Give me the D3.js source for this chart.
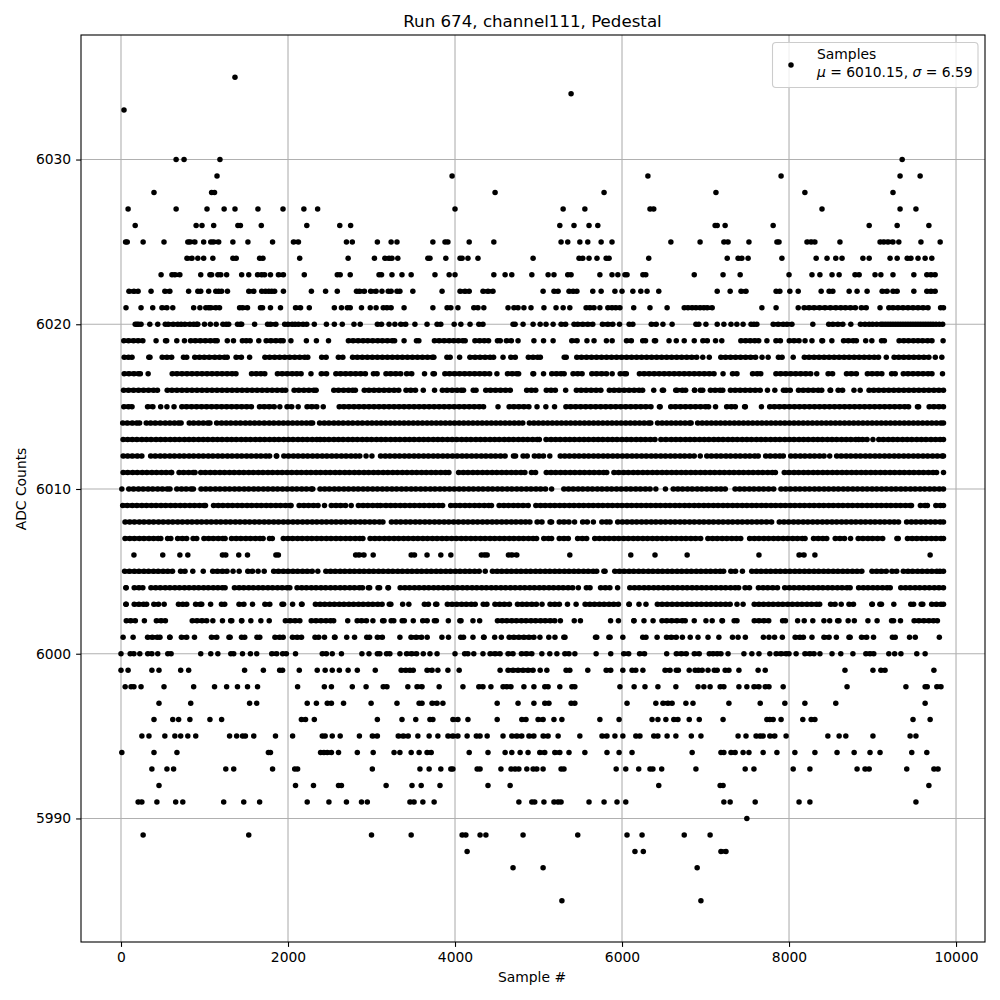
<!DOCTYPE html>
<html><head><meta charset="utf-8">
<script src="https://cdn.jsdelivr.net/npm/d3@7"></script>
<style>html,body{margin:0;padding:0;background:#fff}svg{display:block}text{font-family:"DejaVu Sans";fill:#000}</style>
</head><body><svg id="c" width="1000" height="1000"></svg>
<script>
const title="Run 674, channel111, Pedestal", xLabel="Sample #", yLabel="ADC Counts";
const xTicks=[0,2000,4000,6000,8000,10000], yTicks=[5990,6000,6010,6020,6030];
const a6035=[1365];
const a6034=[5390];
const a6033=[36];
const a6030=[660,755,1185,9355];
const a6029=[1150,3965,6310,7905,9330,9570];
const a6028=[395,1085,1120,4480,5785,7125,8190,9245];
const a6027=[85,660,1030,1235,1365,1640,1940,2190,2355,4000,5295,5555,6335,6380,8395,9330,9520];
const a6026=[170,900,970,1110,1400,1430,1680,2225,2620,2750,5255,5425,5605,5710,7115,7140,7235,7810,8960,9295,9675];
const a6025=[55,75,265,515,800,825,885,990,1075,1105,1170,1340,1520,1815,2065,2125,2700,2770,3070,3235,3305,3735,3880,3915,4170,4465,5270,5350,5495,5590,5750,5880,6585,6935,7220,7270,7520,7855,7880,8215,8265,8310,8610,9090,9135,9185,9245,9315,9580,9810];
const a6024=[790,850,920,990,1100,1340,1380,1660,1700,2140,2720,3035,3160,3210,3245,3315,3675,3700,3890,4060,4085,4155,4275,4935,5485,5530,5605,5700,5810,5845,6320,7260,7390,7435,7510,7915,8325,8455,8560,8635,8885,8960,9210,9295,9415,9460,9545,9630,9710];
const a6023=[480,610,645,705,955,1065,1085,1160,1195,1265,1445,1530,1635,1685,1720,1790,1885,1945,2195,2590,2625,2745,3090,3120,3245,3365,3475,3760,3930,4000,4465,4600,4680,4920,5115,5185,5350,5390,5735,5880,5950,6035,6060,6250,6285,6865,7210,7415,8000,8275,8370,8515,8600,8790,8840,9030,9100,9245,9495,9650,9700,9750];
const a6022=[95,155,205,360,525,585,810,920,955,1050,1135,1170,1205,1275,1530,1590,1685,1730,1770,1805,1840,1945,2280,2450,2590,2820,2855,2915,2990,3055,3125,3200,3235,3305,3340,3495,3845,4060,4120,4170,4335,4395,4455,5055,5185,5235,5365,5415,5460,5650,5750,5915,6000,6130,6225,6300,6440,7140,7295,7425,7485,7845,7890,8010,8110,8385,8480,8525,8720,8815,8935,9115,9175,9245,9295,9495,9650,9700,9750];
const a6021=[60,240,380,490,550,620,870,945,1015,1050,1075,1135,1180,1420,1455,1515,1670,1695,1790,1910,2090,2150,2255,2555,2640,2710,2745,2880,2985,3055,3140,3185,3235,3390,3735,3905,3950,4035,4225,4275,4345,4635,4705,4755,4825,4910,5065,5210,5295,5375,5570,5615,5665,5735,5830,5880,5925,5975,6140,6335,6540,6745,6790,6840,6885,6935,6980,7020,7080,7675,7845,8110,8180,8240,8300,8365,8430,8495,8560,8620,8675,8735,8795,8865,8925,9090,9195,9245,9305,9365,9425,9485,9545,9605,9665,9815,9850];
const a6020=[170,190,210,240,345,440,530,565,625,680,720,765,825,870,905,920,1000,1070,1140,1220,1260,1290,1395,1430,1445,1600,1755,1790,1855,1960,2000,2050,2085,2125,2180,2225,2315,2460,2555,2650,2790,2865,3070,3120,3210,3280,3350,3410,3520,3665,3785,3830,3990,4070,4180,4285,4335,4695,4720,4815,4935,5020,5090,5175,5270,5325,5425,5470,5530,5590,5650,5765,5830,5890,5970,6085,6130,6350,6410,6490,6600,6885,6920,7005,7140,7220,7305,7375,7450,7545,7580,7615,7810,7870,7930,7975,8035,8285,8475,8525,8585,8645,8740,8855,8910,8960,9000,9050,9100,9125,9155,9185,9215,9245,9275,9305,9335,9365,9395,9425,9455,9485,9515,9545,9575,9605,9635,9665,9695,9725,9760,9800,9840];
const a6019=[33,90,150,205,262,420,533,547,668,760,833,890,950,1010,1070,1125,1152,1273,1347,1453,1500,1547,1650,1738,1795,1855,1910,1942,2035,2220,2340,2485,2723,2780,2840,2900,2955,3015,3075,3130,3190,3250,3277,3390,3538,3567,3753,3810,3870,3930,3985,4040,4095,4122,4238,4295,4350,4402,4508,4542,4615,4675,4755,4945,5060,5175,5398,5462,5580,5665,5813,5882,6053,6112,6248,6282,6388,6402,6563,6650,6745,6865,6968,7022,7120,7195,7423,7480,7535,7590,7637,7735,7843,7897,8003,8060,8120,8192,8275,8393,8402,8513,8653,8710,8770,8807,8918,8992,9108,9142,9318,9375,9430,9490,9545,9600,9660,9712,9845];
const a6018=[38,90,132,333,347,493,550,607,748,787,883,940,997,1057,1123,1180,1240,1272,1378,1442,1540,1723,1780,1840,1900,1960,2020,2080,2140,2200,2237,2403,2457,2603,2657,2773,2830,2890,2950,3010,3070,3130,3190,3250,3310,3370,3430,3490,3550,3610,3670,3730,3747,3903,3942,4055,4178,4240,4300,4360,4420,4462,4575,4668,4722,4878,4935,4990,5022,5308,5332,5458,5515,5575,5635,5695,5755,5815,5875,5935,5995,6055,6115,6175,6235,6295,6355,6415,6475,6535,6595,6655,6715,6775,6835,6895,6967,7045,7183,7240,7300,7360,7420,7480,7540,7600,7677,7750,7873,7917,8050,8183,8240,8300,8360,8420,8480,8540,8600,8660,8720,8780,8840,8900,8960,9020,9072,9165,9258,9315,9375,9435,9495,9555,9615,9675,9752,9830];
const a6017=[38,95,155,210,232,325,613,670,730,790,850,910,970,1030,1090,1150,1210,1270,1330,1377,1563,1620,1675,1722,1873,1930,1990,2050,2105,2157,2275,2398,2462,2573,2630,2690,2750,2810,2870,2927,3023,3067,3173,3230,3290,3350,3420,3482,3635,3753,3737,3878,3935,3995,4055,4115,4175,4235,4295,4355,4415,4502,4628,4685,4740,4762,4933,4942,5060,5158,5215,5270,5307,5413,5470,5522,5638,5695,5755,5815,5882,5978,6030,6052,6208,6265,6325,6385,6445,6505,6565,6625,6685,6745,6805,6865,6925,6985,7045,7102,7210,7323,7377,7563,7620,7662,7843,7900,7960,8020,8080,8140,8200,8260,8332,8468,8522,8688,8745,8807,8938,8995,9055,9112,9228,9272,9368,9425,9485,9545,9605,9665,9712,9838];
const a6016=[30,90,150,210,270,330,390,437,553,610,670,730,790,850,910,970,1030,1090,1150,1210,1270,1330,1390,1450,1510,1570,1630,1690,1750,1810,1870,1930,1972,2073,2130,2190,2250,2310,2337,2548,2605,2665,2725,2775,2807,2913,2970,3030,3090,3150,3210,3270,3327,3413,3470,3527,3620,3755,3848,3905,3965,4025,4075,4102,4218,4252,4368,4425,4485,4545,4605,4662,4858,4915,4967,5093,5150,5202,5325,5453,5510,5570,5630,5690,5747,5848,5905,5965,6025,6085,6145,6205,6247,6380,6483,6497,6643,6657,6723,6762,6868,6870,6938,6967,7058,7115,7175,7207,7298,7355,7415,7475,7535,7595,7655,7742,7830,7933,7965,8015,8113,8170,8230,8290,8350,8392,8498,8492,8588,8642,8778,8852,8958,9015,9075,9135,9195,9255,9315,9375,9435,9495,9555,9615,9675,9735,9795,9850];
const a6015=[33,90,132,318,382,475,550,635,728,785,845,905,965,1025,1085,1145,1205,1265,1325,1385,1445,1505,1562,1658,1715,1775,1835,1902,1988,2045,2122,2228,2285,2345,2422,2613,2670,2730,2790,2850,2910,2970,3030,3090,3150,3210,3270,3330,3390,3450,3510,3570,3630,3690,3750,3810,3870,3930,3990,4050,4110,4170,4230,4290,4342,4515,4648,4705,4765,4825,4885,4982,5088,5192,5328,5385,5445,5505,5565,5625,5685,5745,5805,5865,5925,5985,6045,6105,6165,6225,6285,6347,6448,6457,6583,6640,6700,6760,6820,6880,6940,7000,7037,7120,7253,7310,7357,7468,7477,7670,7768,7825,7885,7945,8005,8065,8125,8185,8245,8305,8365,8425,8485,8545,8605,8665,8725,8785,8845,8905,8965,9025,9085,9145,9205,9265,9325,9385,9432,9538,9552,9678,9735,9795,9850];
const a6014=[20,75,135,190,223,302,355,410,470,530,585,640,690,720,817,870,930,985,1040,1065,1145,1205,1260,1315,1375,1430,1490,1545,1600,1655,1715,1775,1830,1890,1945,2000,2055,2110,2165,2220,2270,2295,2378,2435,2490,2550,2605,2660,2720,2775,2835,2890,2950,3005,3060,3115,3170,3225,3280,3335,3390,3445,3500,3555,3610,3665,3720,3775,3830,3885,3940,3995,4050,4105,4160,4215,4270,4325,4380,4435,4490,4545,4600,4655,4710,4765,4812,4890,4945,5000,5055,5110,5165,5220,5275,5330,5385,5440,5495,5550,5605,5660,5715,5770,5825,5880,5935,5990,6045,6100,6155,6210,6265,6320,6345,6425,6480,6535,6590,6645,6700,6755,6810,6828,6905,6960,7015,7070,7125,7180,7235,7290,7345,7400,7455,7510,7565,7620,7675,7730,7785,7840,7895,7950,8005,8060,8115,8170,8225,8280,8335,8390,8445,8500,8555,8610,8665,8720,8775,8830,8885,8940,8995,9050,9105,9160,9215,9270,9325,9380,9435,9490,9545,9600,9655,9710,9765,9820,9850];
const a6013=[25,80,135,190,250,305,360,420,475,530,590,645,700,760,815,870,930,985,1040,1100,1155,1210,1270,1325,1380,1440,1495,1550,1610,1665,1720,1780,1835,1890,1950,2005,2060,2120,2175,2230,2290,2345,2385,2435,2490,2550,2605,2660,2720,2775,2830,2890,2945,3000,3060,3115,3170,3230,3285,3340,3400,3455,3510,3570,3625,3680,3740,3795,3850,3910,3965,4020,4080,4135,4190,4250,4305,4360,4420,4475,4530,4590,4645,4700,4760,4815,4870,4930,4985,5010,5090,5150,5205,5260,5320,5375,5430,5490,5545,5600,5660,5715,5770,5830,5885,5940,6000,6055,6110,6170,6225,6280,6340,6395,6465,6525,6590,6645,6700,6760,6815,6870,6930,6985,7040,7100,7155,7210,7270,7325,7380,7440,7495,7550,7610,7665,7720,7780,7835,7890,7950,8005,8060,8120,8175,8230,8290,8345,8400,8460,8515,8570,8630,8685,8740,8800,8835,8880,8935,9005,9075,9130,9190,9245,9300,9360,9415,9470,9530,9585,9640,9700,9755,9810,9850];
const a6012=[25,80,135,195,250,355,410,470,525,585,640,700,755,815,870,930,985,1045,1100,1160,1215,1275,1330,1390,1445,1505,1560,1620,1675,1735,1780,1860,1865,1950,2005,2065,2120,2180,2235,2295,2350,2410,2465,2525,2580,2640,2695,2755,2810,2860,2935,3005,3108,3165,3220,3280,3335,3395,3450,3510,3565,3625,3680,3740,3795,3855,3910,3970,4025,4085,4140,4200,4255,4315,4370,4430,4485,4545,4600,4700,4725,4815,4865,4950,5005,5060,5135,5260,5315,5370,5430,5485,5545,5600,5660,5715,5775,5830,5890,5945,6005,6060,6120,6175,6235,6290,6350,6405,6465,6520,6580,6635,6695,6750,6810,6865,6937,7015,7070,7130,7185,7245,7300,7360,7415,7475,7530,7590,7632,7720,7775,7835,7890,7932,8020,8075,8135,8190,8250,8305,8365,8420,8487,8570,8625,8685,8740,8800,8855,8915,8970,9030,9085,9145,9200,9260,9315,9375,9430,9490,9545,9605,9660,9720,9775,9835,9850];
const a6011=[25,80,140,195,255,310,370,425,485,540,600,607,695,750,810,865,887,955,1010,1070,1125,1185,1240,1300,1355,1415,1470,1530,1585,1645,1700,1760,1815,1875,1930,1990,2045,2105,2160,2220,2275,2335,2390,2450,2505,2565,2620,2680,2735,2795,2850,2910,2965,3025,3080,3140,3195,3255,3310,3370,3425,3485,3540,3600,3655,3715,3770,3830,3885,3927,4043,4100,4155,4215,4270,4330,4385,4445,4500,4560,4615,4675,4730,4790,4837,4915,4965,5093,5150,5205,5265,5320,5380,5435,5495,5550,5610,5665,5725,5780,5817,5903,5960,6020,6075,6135,6190,6250,6305,6365,6420,6480,6535,6595,6650,6710,6765,6825,6880,6940,6995,7055,7110,7170,7225,7285,7340,7400,7455,7515,7570,7630,7685,7745,7800,7837,7943,8000,8060,8115,8175,8230,8290,8345,8405,8460,8520,8575,8635,8690,8750,8805,8865,8920,8980,9035,9095,9150,9210,9265,9325,9380,9440,9495,9555,9610,9670,9725,9767,9850];
const a6010=[10,93,150,210,265,325,380,440,495,555,587,668,725,780,840,867,958,1015,1070,1130,1185,1245,1300,1360,1415,1475,1530,1590,1645,1705,1760,1820,1875,1935,1990,2050,2105,2165,2220,2280,2297,2383,2440,2495,2555,2610,2670,2725,2785,2840,2900,2955,3015,3070,3130,3185,3245,3300,3360,3415,3475,3530,3590,3645,3705,3760,3820,3875,3935,3990,4050,4105,4165,4220,4280,4335,4395,4450,4510,4565,4625,4680,4740,4795,4855,4910,4970,5025,5085,5157,5303,5360,5415,5475,5530,5590,5645,5705,5760,5820,5875,5935,5990,6050,6105,6165,6220,6280,6337,6405,6520,6613,6670,6725,6785,6840,6900,6955,7015,7070,7130,7185,7237,7353,7410,7465,7525,7580,7640,7695,7755,7817,7903,7960,8015,8075,8130,8190,8245,8305,8360,8420,8475,8535,8590,8650,8705,8765,8820,8880,8935,8995,9050,9110,9165,9225,9280,9340,9395,9455,9510,9570,9625,9685,9740,9800,9850];
const a6009=[20,75,135,190,250,305,365,420,480,535,595,650,710,765,825,880,940,995,1012,1108,1165,1220,1280,1335,1395,1450,1510,1565,1625,1680,1740,1795,1855,1910,1970,2025,2037,2133,2190,2245,2305,2360,2437,2518,2575,2630,2690,2757,2843,2900,2955,3015,3070,3107,3173,3230,3285,3345,3400,3460,3515,3575,3630,3690,3745,3805,3852,3948,4005,4060,4120,4175,4235,4290,4350,4405,4437,4528,4585,4640,4700,4755,4815,4877,4968,5025,5080,5140,5195,5255,5310,5370,5425,5485,5540,5600,5655,5715,5770,5830,5885,5945,6000,6060,6115,6175,6230,6290,6345,6405,6460,6520,6575,6635,6690,6750,6805,6865,6920,6980,7035,7095,7150,7210,7265,7325,7380,7440,7495,7555,7610,7670,7725,7785,7840,7900,7955,8015,8070,8130,8185,8245,8300,8360,8415,8475,8530,8590,8645,8705,8760,8820,8875,8935,8990,9050,9105,9165,9220,9280,9335,9395,9450,9467,9573,9630,9657,9758,9815,9850];
const a6008=[48,105,160,220,275,335,390,450,505,565,620,680,735,795,850,910,965,1025,1080,1140,1195,1255,1310,1370,1425,1485,1540,1600,1655,1715,1770,1830,1885,1945,2000,2060,2115,2175,2230,2290,2345,2405,2460,2520,2575,2635,2690,2750,2805,2865,2920,2980,3035,3095,3137,3238,3295,3350,3410,3465,3525,3580,3640,3695,3755,3810,3870,3925,3985,4040,4100,4155,4215,4270,4330,4385,4445,4500,4560,4615,4675,4730,4790,4845,4897,4983,5042,5138,5157,5248,5305,5365,5432,5528,5585,5657,5758,5815,5857,5948,6005,6060,6120,6175,6235,6290,6350,6405,6465,6520,6580,6635,6695,6750,6810,6865,6925,6980,7040,7095,7155,7210,7270,7325,7385,7440,7500,7555,7615,7670,7730,7792,7883,7940,7995,8055,8110,8170,8225,8285,8340,8400,8455,8515,8570,8630,8685,8745,8800,8860,8915,8975,9030,9090,9145,9205,9260,9312,9408,9465,9520,9580,9635,9695,9750,9810,9850];
const a6007=[48,105,160,220,275,335,390,445,477,558,597,678,735,787,863,907,993,1050,1105,1165,1220,1247,1323,1380,1435,1495,1550,1610,1665,1702,1778,1812,1943,2000,2055,2115,2170,2230,2285,2345,2400,2460,2515,2575,2630,2690,2745,2805,2860,2897,2983,3040,3095,3155,3210,3270,3325,3385,3440,3500,3555,3615,3670,3730,3785,3845,3900,3960,4015,4075,4130,4190,4245,4305,4360,4420,4475,4535,4590,4650,4705,4765,4820,4880,4935,4977,5063,5120,5157,5248,5305,5357,5468,5525,5577,5673,5730,5790,5845,5905,5960,6020,6075,6135,6190,6250,6305,6365,6420,6480,6535,6595,6650,6710,6765,6825,6880,6942,7028,7085,7140,7200,7255,7315,7370,7422,7528,7585,7640,7700,7755,7815,7870,7930,7985,8045,8100,8160,8192,8293,8350,8405,8452,8553,8610,8665,8737,8828,8885,8945,9000,9060,9122,9308,9292,9418,9475,9530,9590,9645,9705,9760,9820,9850];
const a6006=[155,500,705,800,1215,1255,1410,1515,1855,1885,2810,2850,2910,3020,3475,3515,3665,3830,3950,4315,4355,4385,4640,4680,4740,5375,6105,6395,6780,7640,8120,8180,8310,9690];
const a6005=[43,100,160,215,275,330,390,445,505,560,617,713,767,860,985,1098,1155,1215,1270,1342,1415,1518,1575,1642,1715,1828,1885,1945,2000,2060,2115,2175,2230,2290,2357,2453,2510,2565,2625,2680,2740,2795,2855,2910,2970,3025,3085,3140,3200,3255,3315,3370,3430,3485,3545,3600,3660,3715,3775,3830,3890,3945,4005,4060,4120,4175,4235,4290,4362,4448,4505,4560,4620,4675,4735,4790,4850,4905,4965,5020,5080,5135,5195,5250,5310,5365,5425,5480,5540,5595,5655,5697,5783,5797,5913,5970,6025,6085,6140,6200,6255,6315,6370,6430,6485,6545,6600,6660,6715,6775,6830,6890,6945,7005,7060,7120,7175,7217,7303,7360,7442,7553,7610,7665,7725,7780,7840,7895,7955,8010,8070,8125,8185,8240,8300,8355,8415,8470,8530,8585,8645,8700,8760,8815,8872,8993,9050,9105,9165,9232,9290,9368,9425,9480,9540,9595,9655,9710,9770,9807,9850];
const a6004=[58,62,158,215,262,358,415,470,530,585,645,700,760,815,875,930,990,1045,1105,1160,1215,1247,1358,1415,1470,1530,1585,1645,1700,1760,1815,1875,1930,1990,2022,2108,2165,2220,2280,2335,2395,2450,2510,2565,2625,2680,2740,2795,2855,2892,2978,2962,3078,3097,3203,3197,3343,3400,3455,3515,3570,3630,3685,3745,3800,3860,3915,3975,4030,4090,4145,4205,4260,4320,4375,4435,4490,4550,4605,4665,4720,4780,4835,4895,4950,5010,5065,5125,5180,5240,5295,5355,5410,5477,5573,5617,5743,5800,5855,5947,6093,6150,6205,6265,6320,6380,6435,6495,6550,6610,6665,6725,6780,6840,6895,6955,7010,7070,7125,7185,7240,7300,7355,7397,7473,7527,7633,7690,7745,7805,7862,7948,8005,8060,8120,8175,8235,8290,8350,8405,8465,8520,8580,8635,8695,8732,8833,8890,8945,9005,9060,9120,9175,9212,9338,9395,9450,9510,9565,9625,9680,9740,9795,9850];
const a6003=[58,62,158,215,270,307,393,450,517,688,740,787,893,950,967,1073,1203,1242,1413,1472,1575,1723,1782,1928,1947,2055,2168,2162,2328,2385,2440,2500,2555,2615,2670,2730,2785,2845,2900,2960,3015,3075,3127,3213,3232,3373,3447,3633,3682,3768,3782,3908,3965,4020,4080,4135,4195,4242,4338,4382,4478,4535,4590,4652,4748,4805,4860,4920,4975,5042,5138,5195,5250,5347,5450,5558,5615,5670,5730,5785,5845,5900,5957,6083,6087,6203,6287,6423,6480,6540,6600,6660,6720,6780,6835,6895,6950,7010,7065,7125,7180,7240,7295,7377,7450,7583,7640,7695,7755,7810,7870,7925,7985,8040,8100,8155,8215,8270,8330,8367,8498,8552,8625,8718,8772,8998,8992,9088,9107,9255,9458,9492,9583,9602,9708,9765,9820,9850];
const a6002=[63,115,172,280,423,480,532,853,910,970,1027,1100,1215,1313,1327,1443,1447,1555,1675,1775,1968,2025,2085,2142,2278,2335,2395,2455,2510,2547,2715,2828,2880,2940,3017,3133,3150,3235,3267,3393,3367,3500,3613,3667,3753,3777,3920,4058,4072,4215,4295,4508,4565,4620,4680,4735,4795,4850,4910,4965,5025,5080,5140,5195,5262,5428,5502,5863,5957,6143,6142,6263,6372,6478,6535,6595,6657,6723,6757,6865,7005,7080,7203,7197,7343,7377,7583,7640,7700,7757,7923,7957,8103,8182,8285,8418,8487,8598,8582,8708,8782,8945,9055,9228,9252,9335,9498,9555,9615,9675,9730,9777];
const a6001=[25,145,318,375,435,467,583,587,723,787,880,1083,1147,1293,1307,1443,1482,1628,1662,1843,1900,1942,2053,2110,2162,2323,2368,2437,2563,2557,2703,2797,2943,2977,3070,3130,3340,3473,3535,3600,3667,3843,3922,4068,4102,4215,4348,4342,4475,4555,4648,4705,4765,4825,4885,4945,5017,5123,5197,5303,5317,5683,5697,5843,5857,6010,6248,6287,6420,6533,6590,6650,6723,6817,6910,7030,7160,7323,7390,7477,7693,7760,7827,7920,8073,8130,8172,8275,8418,8480,8567,8718,8732,8868,8930,9012,9238,9272,9443,9512,9800];
const a6000=[0,110,155,225,320,370,440,560,600,955,1075,1160,1315,1350,1455,1550,1625,1805,1865,1935,1980,2090,2410,2460,2530,2640,2885,2970,3070,3100,3180,3220,3340,3420,3480,3540,3620,3700,3785,4000,4115,4155,4225,4335,4420,4480,4540,4635,4695,4795,4855,4920,5040,5135,5220,5315,5365,5435,5690,5865,6020,6080,6210,6270,6535,6650,6710,6770,6865,6925,7045,7090,7140,7185,7270,7460,7555,7640,7770,7845,7905,7965,8000,8085,8190,8250,8300,8370,8515,8620,8765,8920,8970,9015,9195,9265,9340,9530,9630];
const a5999=[0,85,370,455,715,810,1480,1705,1900,1935,2135,2350,2445,2530,2615,2720,2830,3045,3355,3410,3460,3500,3665,3725,3795,3915,4050,4540,4635,4695,4755,4815,4875,4935,5020,5100,5330,5375,5590,5810,5865,6010,6120,6165,6250,6515,6575,6650,6675,6805,6875,6915,6960,7030,7105,7140,7235,7280,7400,7630,7715,8670,9005,9100,9150,9735];
const a5998=[50,120,155,240,515,870,1120,1265,1395,1515,1635,2115,2435,2520,2770,2935,3140,3185,3435,3545,3605,3810,4095,4285,4335,4430,4575,4620,4670,4825,4945,5075,5115,5255,5400,5435,5975,6145,6275,6430,6645,6910,6980,7055,7175,7220,7400,7495,7580,7640,7715,7760,7930,8695,9400,9630,9655,9770,9820];
const a5997=[455,835,1540,1625,2230,2340,2470,2520,2665,2995,3305,3570,3605,3725,3785,3855,4505,4755,4945,5075,5125,5390,5435,6060,6405,6490,6550,6600,6765,6850,7280,7655,7950,8190,8560,9630];
const a5996=[395,620,690,825,1065,1205,2160,2210,2315,3070,3365,3530,3700,3735,3975,4035,4155,4505,4800,4850,4995,5055,5185,5280,5735,5965,6360,6430,6525,6620,6670,6805,6925,7210,7735,7770,7810,7905,8165,8265,8310,9485,9690];
const a5995=[250,335,525,645,715,800,895,1300,1385,1455,1490,1590,1850,2055,2410,2445,2530,2625,2855,3010,3070,3320,3380,3440,3555,3690,3795,3915,3975,4035,4145,4255,4300,4385,4575,4680,4740,4800,4885,4945,5055,5115,5235,5495,5760,5820,5915,6010,6165,6215,6380,6430,6540,6645,6830,6945,7390,7485,7605,7655,7690,7770,7830,7965,8465,8600,8680,9005,9450,9520];
const a5994=[10,395,670,1765,1790,2390,2430,2470,2520,2605,2830,3020,3270,3340,3475,3570,3665,3715,4170,4395,4600,4680,4780,4875,5015,5075,5195,5255,5365,5555,5820,5965,6120,6840,7185,7220,7305,7355,7450,7520,7690,7855,8070,8310,8575,8780,8970,9090,9470,9650];
const a5993=[370,550,630,1255,1350,1815,2080,2115,3010,3580,3690,3830,3950,3975,4265,4300,4550,4670,4720,4765,4860,4935,4980,5055,5270,5305,5930,6045,6200,6335,6370,6475,6885,7475,7580,8050,8250,8815,8910,8960,9410,9735,9785];
const a5992=[455,2090,2305,2605,2640,3175,3485,3595,3820,4395,4660,6440,7175,7210,9675];
const a5991=[205,250,430,655,740,1230,1470,1660,2230,2490,2700,2880,2950,3460,3510,3615,3750,4765,4920,4955,5065,5185,5235,5270,5605,5785,5940,6045,7220,7295,7595,8120,8250,9520];
const a5990=[7495];
const a5989=[265,1530,3000,3475,4085,4130,4300,4370,4815,5470,6060,6240,6745,7055];
const a5988=[4145,6155,6255,7185,7245];
const a5987=[4695,5055,6900];
const a5985=[5280,6945];
const rows=[[6035,a6035],[6034,a6034],[6033,a6033],[6030,a6030],[6029,a6029],[6028,a6028],[6027,a6027],[6026,a6026],[6025,a6025],[6024,a6024],[6023,a6023],[6022,a6022],[6021,a6021],[6020,a6020],[6019,a6019],[6018,a6018],[6017,a6017],[6016,a6016],[6015,a6015],[6014,a6014],[6013,a6013],[6012,a6012],[6011,a6011],[6010,a6010],[6009,a6009],[6008,a6008],[6007,a6007],[6006,a6006],[6005,a6005],[6004,a6004],[6003,a6003],[6002,a6002],[6001,a6001],[6000,a6000],[5999,a5999],[5998,a5998],[5997,a5997],[5996,a5996],[5995,a5995],[5994,a5994],[5993,a5993],[5992,a5992],[5991,a5991],[5990,a5990],[5989,a5989],[5988,a5988],[5987,a5987],[5985,a5985]];

const L=81,R=985,T=35,B=942;
const x=d3.scaleLinear().domain([-479,10347]).range([L,R]);
const y=d3.scaleLinear().domain([5982.5,6037.56]).range([B,T]);
const svg=d3.select("#c");
const grid=svg.append("g");
grid.selectAll("line.v").data(xTicks).join("line").attr("x1",d=>x(d)).attr("x2",d=>x(d)).attr("y1",T).attr("y2",B).attr("stroke","#b0b0b0").attr("stroke-width",1.1);
grid.selectAll("line.h").data(yTicks).join("line").attr("x1",L).attr("x2",R).attr("y1",d=>y(d)).attr("y2",d=>y(d)).attr("stroke","#b0b0b0").attr("stroke-width",1.1);
const pts=rows.flatMap(([v,s])=>s.map(n=>({n,v})));
// Touching dots overplot into a solid bar in the reference; fill the waist between them.
const joins=rows.flatMap(([v,s])=>{const o=[...s].sort((a,b)=>a-b);return d3.pairs(o).filter(([a,b])=>b-a<=66).map(([a,b])=>({a,b,v}));});
svg.append("g").selectAll("line").data(joins).join("line").attr("x1",d=>x(d.a)).attr("x2",d=>x(d.b)).attr("y1",d=>y(d.v)).attr("y2",d=>y(d.v)).attr("stroke","#000").attr("stroke-width",4.4);
svg.append("g").selectAll("circle").data(pts).join("circle").attr("cx",d=>x(d.n)).attr("cy",d=>y(d.v)).attr("r",2.75).attr("fill","#000");
const ax=svg.append("g").attr("transform",`translate(0,${B})`).call(d3.axisBottom(x).tickValues(xTicks).tickFormat(d3.format("d")).tickSizeInner(4.9).tickSizeOuter(0).tickPadding(4.9));
const ay=svg.append("g").attr("transform",`translate(${L},0)`).call(d3.axisLeft(y).tickValues(yTicks).tickFormat(d3.format("d")).tickSizeInner(4.9).tickSizeOuter(0).tickPadding(4.9));
[ax,ay].forEach(g=>{g.selectAll("path").remove();g.selectAll("line").attr("stroke","#000").attr("stroke-width",1.1);g.selectAll("text").attr("font-family","DejaVu Sans").attr("font-size",13.89).attr("fill","#000");});
svg.append("rect").attr("x",L).attr("y",T).attr("width",R-L).attr("height",B-T).attr("fill","none").attr("stroke","#000").attr("stroke-width",1.1);
svg.append("text").attr("x",532.5).attr("y",27.3).attr("text-anchor","middle").attr("font-size",16.67).text(title);
svg.append("text").attr("x",532).attr("y",981.7).attr("text-anchor","middle").attr("font-size",13.89).text(xLabel);
svg.append("text").attr("transform","translate(26,489) rotate(-90)").attr("text-anchor","middle").attr("font-size",13.89).text(yLabel);
const lg=svg.append("g");
lg.append("rect").attr("x",772.5).attr("y",42.5).attr("width",205.5).attr("height",45).attr("rx",3.5).attr("fill","#fff").attr("fill-opacity",0.8).attr("stroke","#ccc").attr("stroke-width",1.1);
lg.append("circle").attr("cx",791).attr("cy",65).attr("r",2.75).attr("fill","#000");
lg.append("text").attr("x",817).attr("y",59).attr("font-size",13.89).text("Samples");
const t2=lg.append("text").attr("x",817).attr("y",77).attr("font-size",13.89);
t2.append("tspan").attr("font-style","italic").text("μ");
t2.append("tspan").text(" = 6010.15, ");
t2.append("tspan").attr("font-style","italic").text("σ");
t2.append("tspan").text(" = 6.59");
</script></body></html>
